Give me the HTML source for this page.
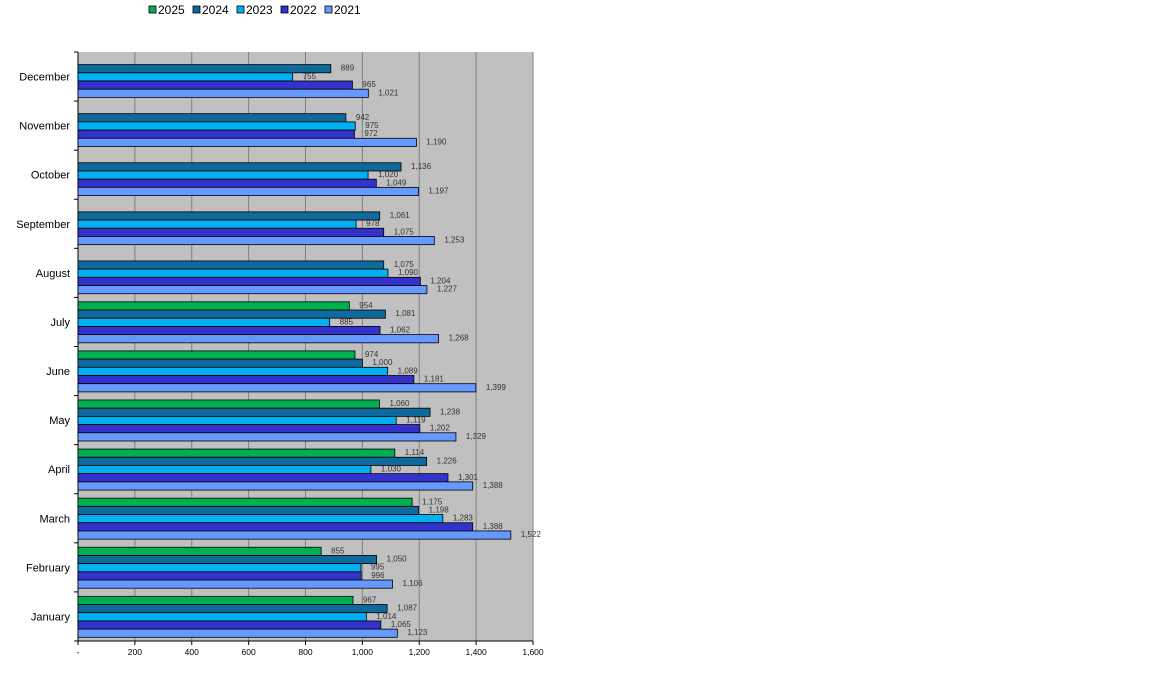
<!DOCTYPE html>
<html><head><meta charset="utf-8">
<style>
html,body{margin:0;padding:0;background:#fff;width:1152px;height:683px;overflow:hidden;font-family:"Liberation Sans",Arial,sans-serif;}
svg{display:block}
</style></head>
<body>
<svg id="chart" width="1152" height="683"></svg>
<script>
const categories = ["January","February","March","April","May","June","July","August","September","October","November","December"];
const seriesNames = ["2025","2024","2023","2022","2021"];
const s2025 = [967,855,1175,1114,1060,974,954,null,null,null,null,null];
const s2024 = [1087,1050,1198,1226,1238,1000,1081,1075,1061,1136,942,889];
const s2023 = [1014,995,1283,1030,1119,1089,885,1090,978,1020,975,755];
const s2022 = [1065,996,1388,1301,1202,1181,1062,1204,1075,1049,972,965];
const s2021 = [1123,1106,1522,1388,1329,1399,1268,1227,1253,1197,1190,1021];
const xTicks = [0,200,400,600,800,1000,1200,1400,1600];
const xTickLabels = ["-","200","400","600","800","1,000","1,200","1,400","1,600"];

const series = [s2025,s2024,s2023,s2022,s2021];
const colors = ["#00B050","#0E6A9C","#00B0F0","#3333CC","#6699FF"];
const NS = "http://www.w3.org/2000/svg";
const svg = document.getElementById("chart");
const L=78,R=533,T=52,B=641;
const xMax=1600;
const x = v => L + v/xMax*(R-L);
const band = (B-T)/categories.length;
const bandTop = i => T + (categories.length-1-i)*band;
const barH = 8.2, pad = 4.4;
function mk(tag, attrs){const e=document.createElementNS(NS,tag);for(const k in attrs)e.setAttribute(k,attrs[k]);svg.appendChild(e);return e;}

let bg = mk("rect",{x:L,y:T,width:R-L,height:B-T,fill:"#C0C0C0"});


xTicks.forEach((t,i)=>{
  if(i>0){
    const g=mk("line",{x1:x(t),x2:x(t),y1:T,y2:B,stroke:"#808080","stroke-width":1});
    
    
  }
  const tk=mk("line",{x1:x(t),x2:x(t),y1:B,y2:B+4,stroke:"#000"});
  
  
  const lb=mk("text",{x:x(t),y:B+14,"font-size":"8.5","text-anchor":"middle",fill:"#000"});
  lb.textContent=xTickLabels[i];
  
  
});
let ax=mk("line",{x1:L,x2:L,y1:T,y2:B,stroke:"#000"});


let axb=mk("line",{x1:L,x2:R,y1:B,y2:B,stroke:"#000"});


for(let k=0;k<=categories.length;k++){
  const yy=T+k*band;
  const tk=mk("line",{x1:L-4,x2:L,y1:yy,y2:yy,stroke:"#000"});
  
  
}
categories.forEach((c,i)=>{
  const top=bandTop(i);
  const lb=mk("text",{x:70,y:top+band/2+4,"font-size":"11","text-anchor":"end",fill:"#000"});
  lb.textContent=c;
  
  
  series.forEach((s,j)=>{
    const v=s[i]; if(v==null) return;
    const y0=top+pad+j*barH;
    const r=mk("rect",{x:L,y:y0,width:x(v)-L,height:barH,fill:colors[j],stroke:"#000","stroke-width":0.8});
    
    
    const t=mk("text",{x:x(v)+10,y:y0+barH/2+2,"font-size":"8","fill":"#333"});
    t.textContent=v.toLocaleString("en-US");
    
    
  });
});
seriesNames.forEach((n,j)=>{
  const lx=149+j*44;
  const sq=mk("rect",{x:lx,y:6,width:7,height:7,fill:colors[j],stroke:"#000","stroke-width":0.8});
  
  
  const t=mk("text",{x:lx+9,y:14,"font-size":"12",fill:"#000"});
  t.textContent=n;
  
  
});
</script>
</body></html>
